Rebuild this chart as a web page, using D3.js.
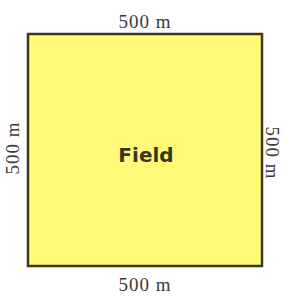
<!DOCTYPE html>
<html>
<head>
<meta charset="utf-8">
<script src="https://cdn.jsdelivr.net/npm/d3@7"></script>
<style>
  body { margin: 0; background: #fff; }
</style>
</head>
<body>
<div id="outer"></div>
<script>
// DATA //
const fieldSize = [500, 500];             // width, height in metres
const sideNames = ['top', 'bottom', 'left', 'right'];
const sideLabels = ['500 m', '500 m', '500 m', '500 m'];
const centerLabel = ['Field'];

// SIZING //
const width = 285, height = 296;
const margin = {top: 34, left: 28, right: 23, bottom: 30};

const svg = d3.select('#outer').append('svg')
  .attr('width', width)
  .attr('height', height);

const x = d3.scaleLinear().domain([0, fieldSize[0]]).range([margin.left, width - margin.right]);
const y = d3.scaleLinear().domain([0, fieldSize[1]]).range([margin.top, height - margin.bottom]);

// FIELD //
svg.append('rect')
  .attr('x', x(0))
  .attr('y', y(0))
  .attr('width', x(fieldSize[0]) - x(0))
  .attr('height', y(fieldSize[1]) - y(0))
  .attr('fill', '#fffa78')
  .attr('stroke', '#3e381e')
  .attr('stroke-width', 2.5);

// SIDE LABELS //
const cx = x(fieldSize[0] / 2), cy = y(fieldSize[1] / 2);
const labelPos = {
  top:    {x: cx, y: y(0) - 6, r: 0},
  bottom: {x: cx, y: y(fieldSize[1]) + 25, r: 0},
  left:   {x: x(0) - 16, y: cy - 2, r: -90},
  right:  {x: x(fieldSize[0]) + 11, y: cy + 3, r: 90}
};

svg.selectAll('text.side')
  .data(sideNames)
  .join('text')
  .attr('class', 'side')
  .attr('transform', d => `translate(${labelPos[d].x},${labelPos[d].y}) rotate(${labelPos[d].r})`)
  .attr('text-anchor', 'middle')
  .attr('dy', d => (d === 'left' || d === 'right') ? '0.35em' : 0)
  .style('font-family', '"Liberation Serif", "DejaVu Serif", serif')
  .style('font-size', '19px')
  .style('letter-spacing', '1px')
  .attr('fill', '#3a3a3a')
  .text((d, i) => sideLabels[i]);

// CENTER LABEL //
svg.append('text')
  .attr('x', cx + 1)
  .attr('y', cy + 5)
  .attr('dy', '0.35em')
  .attr('text-anchor', 'middle')
  .style('font-family', '"Comic Sans MS", "DejaVu Sans", sans-serif')
  .style('font-size', '20px')
  .style('font-weight', 'bold')
  .attr('fill', '#3a3520')
  .text(centerLabel[0]);
</script>
</body>
</html>
